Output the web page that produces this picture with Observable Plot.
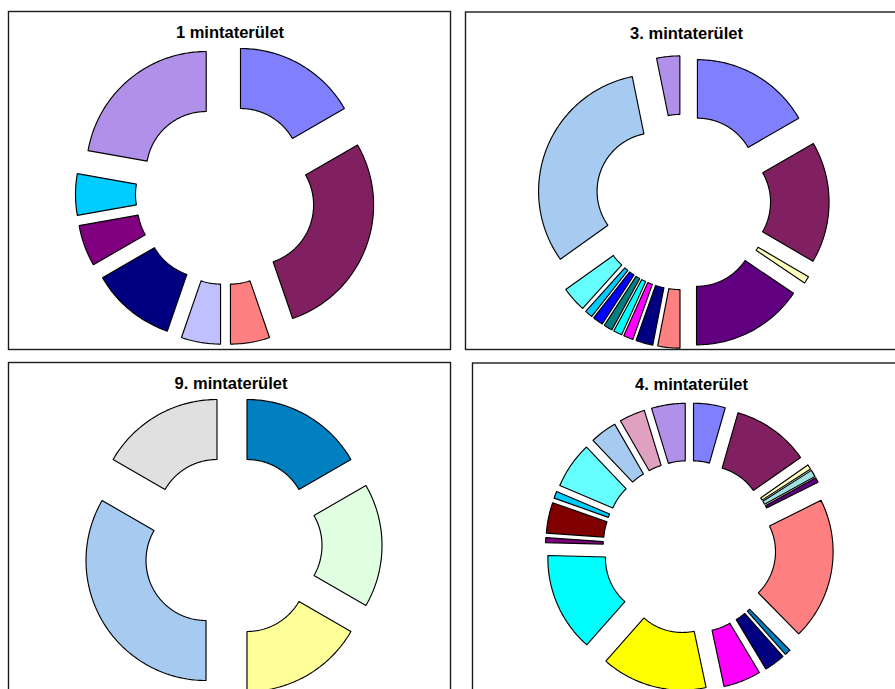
<!DOCTYPE html>
<html>
<head>
<meta charset="utf-8">
<script src="https://cdn.jsdelivr.net/npm/d3@7"></script>
<script src="https://cdn.jsdelivr.net/npm/@observablehq/plot@0.6"></script>
<style>
  html, body { margin: 0; padding: 0; background: #fff; }
  #chart { width: 895px; height: 689px; overflow: hidden; }
</style>
</head>
<body>
<div id="chart"></div>
<script>
// ---- Data (slice shares, clockwise from 12 o'clock) ----
const titles = ["1 mintaterület", "3. mintaterület", "9. mintaterület", "4. mintaterület"];

const values1 = [60, 101, 19, 19, 41, 20, 20, 80];
const colors1 = ["#8080FF", "#802060", "#FF8080", "#C0C0FF", "#000080", "#800080", "#00CCFF", "#B090E8"];

const values3 = [60, 60.4, 3.6, 56, 11, 8.5, 4.8, 4.3, 4.3, 5.2, 3.9, 12.5, 114, 11.5];
const colors3 = ["#8080FF", "#802060", "#FFFFC0", "#600080", "#FF8080", "#000080", "#FF00FF",
                 "#00FFFF", "#008080", "#0000FF", "#00CCFF", "#66FFFF", "#A6CAF0", "#B090E8"];

const values9 = [60, 60, 60, 120, 60];
const colors9 = ["#0080C0", "#E0FFE0", "#FFFF99", "#A6CAF0", "#E0E0E0"];

const values4 = [16, 39, 2.5, 3.5, 2.5, 72, 3, 10.5, 19, 53.5, 50, 2.5, 15.5, 3.5, 23.5, 13.5, 13, 17];
const colors4 = ["#8080FF", "#802060", "#FFFFC0", "#A0E0E0", "#600080", "#FF8080", "#0080C0", "#000080",
                 "#FF00FF", "#FFFF00", "#00FFFF", "#800080", "#800000", "#00CCFF", "#66FFFF", "#A6CAF0",
                 "#E0A0C0", "#B090E8"];

// ---- Layout (page pixels) ----
const W = 895, H = 689;
const R_OUT = 120, R_IN = 60, EXPLODE = 30;
const panels = [
  {title: titles[0], values: values1, colors: colors1, cx: 225,   cy: 194,   s: 1.0,   x1: 8.5,   y1: 11.5,  x2: 450.5, y2: 349.5, tx: 229.5, ty: 32},
  {title: titles[1], values: values3, colors: colors3, cx: 682.3, cy: 201.5, s: 0.975, x1: 465.5, y1: 12,    x2: 905,   y2: 349.5, tx: 686,   ty: 33},
  {title: titles[2], values: values9, colors: colors9, cx: 231.5, cy: 545,   s: 1.0,   x1: 8.5,   y1: 362.5, x2: 450.5, y2: 705,   tx: 230.5, ty: 383},
  {title: titles[3], values: values4, colors: colors4, cx: 689,   cy: 546.5, s: 0.96,  x1: 472.5, y1: 363,   x2: 905,   y2: 705,   tx: 691,   ty: 384}
];

// Build exploded doughnut slice outlines from the data via d3.pie
function slicePoints(p, pi) {
  const arcs = d3.pie().sort(null).value(d => d)(p.values);
  const ro = R_OUT * p.s, ri = R_IN * p.s, ex = EXPLODE * p.s;
  const pts = [];
  arcs.forEach((a, i) => {
    const b = (a.startAngle + a.endAngle) / 2;
    const ox = p.cx + ex * Math.sin(b);
    const oy = p.cy - ex * Math.cos(b);
    const span = a.endAngle - a.startAngle;
    const n = Math.max(2, Math.ceil(span / (Math.PI / 180)));
    const ring = [];
    for (let k = 0; k <= n; k++) {
      const t = a.startAngle + span * k / n;
      ring.push([ox + ro * Math.sin(t), oy - ro * Math.cos(t)]);
    }
    for (let k = n; k >= 0; k--) {
      const t = a.startAngle + span * k / n;
      ring.push([ox + ri * Math.sin(t), oy - ri * Math.cos(t)]);
    }
    ring.push(ring[0]);
    ring.forEach(([x, y]) => pts.push({id: pi + "-" + i, x, y, color: p.colors[i]}));
  });
  return pts;
}

const points = panels.flatMap((p, i) => slicePoints(p, i));

const chart = Plot.plot({
  width: W,
  height: H,
  margin: 0,
  x: {domain: [0, W], range: [0, W], axis: null},
  y: {domain: [0, H], range: [0, H], axis: null},
  color: {type: "identity"},
  style: {background: "#fff"},
  marks: [
    Plot.rect(panels, {x1: "x1", y1: "y1", x2: "x2", y2: "y2", fill: "#fff", stroke: "#1c1c1c", strokeWidth: 1.4}),
    Plot.line(points, {x: "x", y: "y", z: "id", fill: "color", stroke: "#000", strokeWidth: 1.15, strokeLinejoin: "miter"}),
    Plot.text(panels, {x: "tx", y: "ty", text: "title", fontSize: 16.5, fontWeight: "bold",
                       fontFamily: "Liberation Sans, Arial, sans-serif", fill: "#000"})
  ]
});
document.getElementById("chart").appendChild(chart);
</script>
</body>
</html>
